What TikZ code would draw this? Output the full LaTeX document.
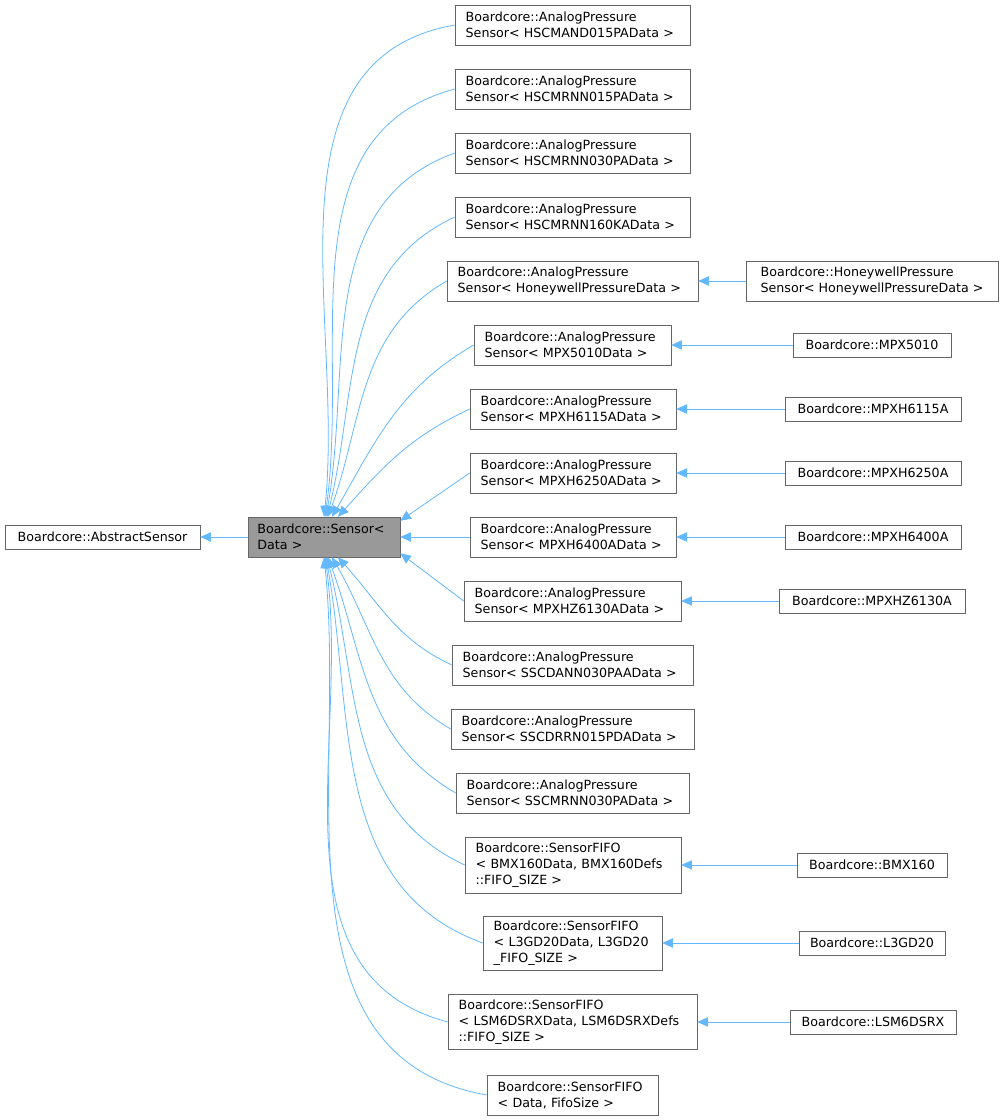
\documentclass[tikz,border=0pt]{standalone}
\usepackage{fontspec}
\setmainfont{DejaVu Sans}
\usetikzlibrary{arrows.meta}
\definecolor{edgeblue}{HTML}{63B8FF}
\definecolor{nodegray}{HTML}{999999}
\tikzset{
  cls/.style={draw=black!60, fill=white, align=left, inner sep=0pt, font=\fontsize{9.5pt}{12pt}\selectfont},
  inh/.style={draw=edgeblue, line width=0.6pt, {Triangle[length=8pt,width=7pt,fill=edgeblue]}-}
}
\begin{document}
\begin{tikzpicture}[x=0.75pt,y=-0.75pt]
  \useasboundingbox (0,0) rectangle (1004,1120);
  % Basis
  \node[cls, minimum width=146.25pt, minimum height=18pt] (abstract) at (102.5,537) {Boardcore::AbstractSensor};
  \node[cls, fill=nodegray, minimum width=114pt, minimum height=30pt, text width=100pt] (sensor) at (324,537) {Boardcore::Sensor<\\Data >};
  % Mittlere Spalte
  \foreach \n/\cx/\cy/\w/\h/\t in {
    c1/572.5/25/235/40/{Boardcore::AnalogPressure\\Sensor< HSCMAND015PAData >},
    c2/572.5/89/235/40/{Boardcore::AnalogPressure\\Sensor< HSCMRNN015PAData >},
    c3/572.5/153/235/40/{Boardcore::AnalogPressure\\Sensor< HSCMRNN030PAData >},
    c4/572.5/217/235/40/{Boardcore::AnalogPressure\\Sensor< HSCMRNN160KAData >},
    c5/572.5/281/251/40/{Boardcore::AnalogPressure\\Sensor< HoneywellPressureData >},
    c6/572.5/345/197/40/{Boardcore::AnalogPressure\\Sensor< MPX5010Data >},
    c7/573/409/206/40/{Boardcore::AnalogPressure\\Sensor< MPXH6115AData >},
    c8/573/473/206/40/{Boardcore::AnalogPressure\\Sensor< MPXH6250AData >},
    c9/573/537/206/40/{Boardcore::AnalogPressure\\Sensor< MPXH6400AData >},
    c10/572.5/601/217/40/{Boardcore::AnalogPressure\\Sensor< MPXHZ6130AData >},
    c11/572.5/665/241/40/{Boardcore::AnalogPressure\\Sensor< SSCDANN030PAAData >},
    c12/572.5/729/243/40/{Boardcore::AnalogPressure\\Sensor< SSCDRRN015PDAData >},
    c13/572.5/793/233/40/{Boardcore::AnalogPressure\\Sensor< SSCMRNN030PAData >},
    c14/573/865/216/56/{Boardcore::SensorFIFO\\< BMX160Data, BMX160Defs\\::FIFO\_SIZE >},
    c15/572.5/943/179/54/{Boardcore::SensorFIFO\\< L3GD20Data, L3GD20\\\_FIFO\_SIZE >},
    c16/572.5/1022/249/55/{Boardcore::SensorFIFO\\< LSM6DSRXData, LSM6DSRXDefs\\::FIFO\_SIZE >},
    c17/572.5/1095/171/40/{Boardcore::SensorFIFO\\< Data, FifoSize >}}
    \node[cls, minimum width=\w*0.75pt, minimum height=\h*0.75pt, text width=\w*0.75pt-16pt] (\n) at (\cx,\cy) {\t};
  % Rechte Spalte
  \foreach \n/\cx/\cy/\w/\h/\t in {
    r5/872/281/252/40/{Boardcore::HoneywellPressure\\Sensor< HoneywellPressureData >},
    r6/872/345/158/24/{Boardcore::MPX5010},
    r7/873/409/176/24/{Boardcore::MPXH6115A},
    r8/873/473/176/24/{Boardcore::MPXH6250A},
    r9/873/537/176/24/{Boardcore::MPXH6400A},
    r10/872/601/186/24/{Boardcore::MPXHZ6130A},
    r14/872/865/150/24/{Boardcore::BMX160},
    r15/872/943/146/24/{Boardcore::L3GD20},
    r16/873/1022/166/24/{Boardcore::LSM6DSRX}}
    \node[cls, minimum width=\w*0.75pt, minimum height=\h*0.75pt] (\n) at (\cx,\cy) {\t};
  % Kanten
  \draw[inh] (abstract.east) -- (sensor.west);
  \foreach \c/\dx/\a/\b in {c1/0/84/190, c2/1/82/195, c3/2/80/200, c4/3/76/205,
      c5/4/70/210, c6/8/60/210, c7/14/48/205}
    \draw[inh] ([xshift=\dx*0.75pt]sensor.north) to[out=\a,in=\b] (\c.west);
  \draw[inh] ([yshift=-3pt]sensor.north east) -- (c8.west);
  \draw[inh] (sensor.east) -- (c9.west);
  \draw[inh] ([yshift=3pt]sensor.south east) -- (c10.west);
  \foreach \c/\dx/\a/\b in {c11/14/-48/155, c12/8/-60/150, c13/4/-70/150, c14/3/-76/155,
      c15/2/-80/160, c16/1/-82/165, c17/0/-84/170}
    \draw[inh] ([xshift=\dx*0.75pt]sensor.south) to[out=\a,in=\b] (\c.west);
  \foreach \c/\r in {c5/r5, c6/r6, c7/r7, c8/r8, c9/r9, c10/r10, c14/r14, c15/r15, c16/r16}
    \draw[inh] (\c.east) -- (\r.west);
\end{tikzpicture}
\end{document}
